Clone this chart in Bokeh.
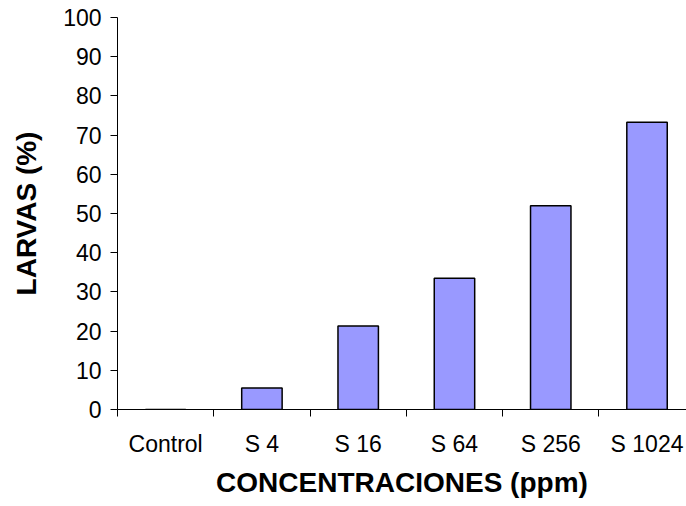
from bokeh.plotting import figure
from bokeh.models import Range1d, FixedTicker
from bokeh.embed import file_html
from bokeh.resources import INLINE

categories = ["Control", "S 4", "S 16", "S 64", "S 256", "S 1024"]
larvas = [0, 5.5, 21.3, 33.5, 52.0, 73.3]
y_ticks = [0, 10, 20, 30, 40, 50, 60, 70, 80, 90, 100]

centers = [i + 0.5 for i in range(len(categories))]
bounds = [float(i) for i in range(len(categories) + 1)]

p = figure(width=686, height=506, output_backend="svg", toolbar_location=None,
           x_range=Range1d(0, 5.91), y_range=Range1d(0, 100),
           min_border_left=117, min_border_right=0, min_border_top=17, min_border_bottom=97)
p.background_fill_color = "white"
p.border_fill_color = "white"
p.outline_line_color = None
p.xgrid.visible = False
p.ygrid.visible = False

p.vbar(x=centers, top=larvas, width=0.42, bottom=0,
       fill_color="#9999FF", line_color="black", line_width=1.5)

font = "Liberation Sans"

# Y axis
ya = p.yaxis[0]
ya.ticker = FixedTicker(ticks=y_ticks)
ya.axis_line_color = "black"
ya.major_tick_line_color = "black"
ya.major_tick_in = 0
ya.major_tick_out = 7
ya.minor_tick_line_color = None
ya.major_label_text_font = font
ya.major_label_text_font_size = "23px"
ya.major_label_text_color = "black"
ya.major_label_standoff = 9
ya.axis_label = "LARVAS (%)"
ya.axis_label_text_font = font
ya.axis_label_text_font_size = "28px"
ya.axis_label_text_font_style = "bold"
ya.axis_label_text_color = "black"
ya.axis_label_standoff = 18

# X axis
xa = p.xaxis[0]
xa.ticker = FixedTicker(ticks=centers, minor_ticks=bounds)
xa.major_label_overrides = {c: lab for c, lab in zip(centers, categories)}
xa.axis_line_color = "black"
xa.major_tick_line_color = None
xa.major_tick_in = 0
xa.major_tick_out = 0
xa.minor_tick_line_color = "black"
xa.minor_tick_in = 0
xa.minor_tick_out = 7
xa.major_label_text_font = font
xa.major_label_text_font_size = "23px"
xa.major_label_text_color = "black"
xa.major_label_standoff = 14
xa.axis_label = "CONCENTRACIONES (ppm)"
xa.axis_label_text_font = font
xa.axis_label_text_font_size = "28px"
xa.axis_label_text_font_style = "bold"
xa.axis_label_text_color = "black"
xa.axis_label_standoff = 7

open("out.html", "w").write(file_html(p, INLINE))
